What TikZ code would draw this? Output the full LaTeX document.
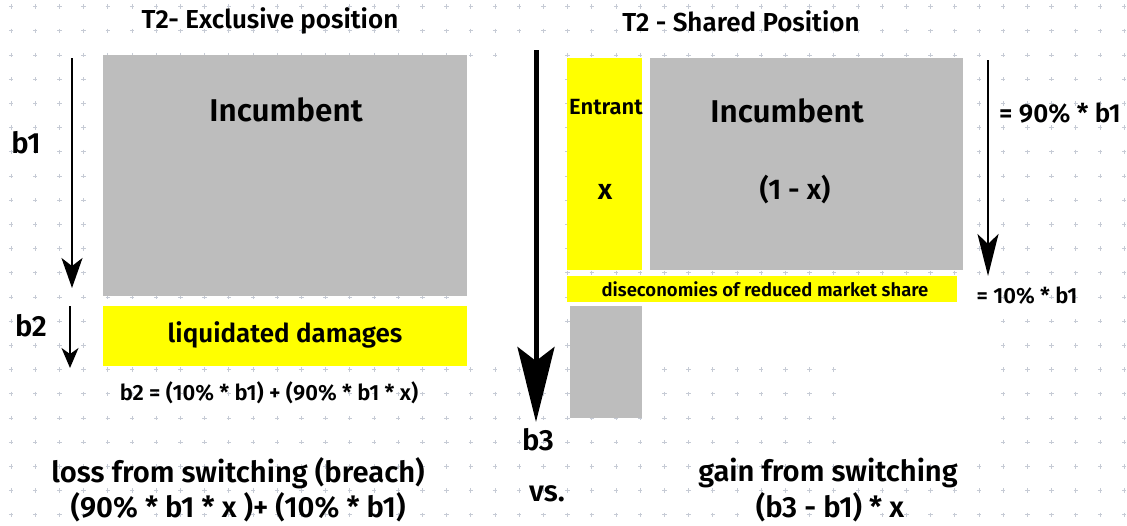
\documentclass[tikz,border=0pt]{standalone}
\usepackage{fontspec}
\setmainfont{Fira Sans}[BoldFont={Fira Sans SemiBold}]
\usetikzlibrary{arrows.meta}
\definecolor{boxgrey}{RGB}{189,189,189}
\definecolor{boxyellow}{RGB}{255,255,0}
\definecolor{dotgrey}{RGB}{198,203,213}
\tikzset{every node/.style={inner sep=0pt, text=black},
  gridplus/.style={dotgrey, line width=0.8pt},
  hugetxt/.style={font=\fontsize{31.5}{35}\selectfont\bfseries},
  sharetxt/.style={font=\fontsize{28.5}{32}\selectfont\bfseries},
  bigtxt/.style={font=\fontsize{29.2}{33}\selectfont\bfseries},
  midtxt/.style={font=\fontsize{26}{30}\selectfont\bfseries},
  smalltxt/.style={font=\fontsize{22}{26}\selectfont\bfseries},
  tinytxt/.style={font=\fontsize{18.5}{22}\selectfont\bfseries},
  thinarrow/.style={line width=2pt, -{Stealth[length=30pt,width=21pt,inset=8pt]}},
  fatarrow/.style={line width=5pt, -{Stealth[length=75pt,width=37pt,inset=14pt]}}}

\begin{document}
\begin{tikzpicture}[x=1pt,y=-1pt]
   \useasboundingbox (0,0) rectangle (1127,525);
   \fill[white] (0,0) rectangle (1127,525);
   \foreach \i in {0,...,46} {
     \foreach \j in {0,...,21} {
       \draw[gridplus] ({11+24.2*\i},{6.6+24.2*\j}) +(-2.2,0) -- +(2.2,0) +(0,-2.2) -- +(0,2.2);
     }
   }
   \fill[white] (462,64) rectangle (560,360);
   \fill[white] (510,45) rectangle (560,64);
   \fill[white] (642,304) rectangle (992,362);
   \fill[white] (840,304) rectangle (992,455);
   \begin{scope}
    \fill[boxgrey]   (103, 55) rectangle (467,296);
    \fill[boxyellow] (103,306) rectangle (467,366);
    \coordinate (b1top) at (72, 58);
    \coordinate (b1bot) at (72,288);
    \coordinate (b2top) at (70,306);
    \coordinate (b2bot) at (70,368);
    \draw[thinarrow] (b1top) -- (b1bot);
    \draw[line width=1.6pt, -{Stealth[length=20pt,width=17pt,inset=6pt]}] (b2top) -- (b2bot);
    \node[midtxt] (title1) at (270, 21) {T2- Exclusive position};
    \node[hugetxt] (inc1) at (286,110) {Incumbent};
    \node[midtxt] (damages) at (285,335) {liquidated damages};
    \node[smalltxt] (b2def) at (269,393) {b2 = (10\% * b1) + (90\% * b1 * x)};
    \node[bigtxt] (b1) at (26,143) {b1};
    \node[bigtxt] (b2) at (31,326) {b2};
    \node[bigtxt] (loss) at (238,473) {loss from switching (breach)};
    \node[bigtxt] (lossdef) at (238,507) {(90\% * b1 * x )+ (10\% * b1)};
   \end{scope}
   \begin{scope}
    \coordinate (b3top) at (536, 50);
    \coordinate (b3bot) at (536,422);
    \draw[fatarrow] (b3top) -- (b3bot);
    \node[bigtxt] (b3) at (538,440) {b3};
    \node[bigtxt] (vs) at (547,494) {vs.};
   \end{scope}
   \begin{scope}
    \fill[boxyellow] (567, 58) rectangle (642,270);
    \fill[boxgrey]   (650, 58) rectangle (963,270);
    \fill[boxyellow] (567,276) rectangle (957,302);
    \fill[boxgrey]   (570,306) rectangle (642,418);
    \coordinate (sharetop) at (988, 60);
    \coordinate (sharebot) at (988,276);
    \draw[line width=2.4pt, -{Stealth[length=42pt,width=21pt,inset=10pt]}] (sharetop) -- (sharebot);
    \node[midtxt] (title2) at (741, 21) {T2 - Shared Position};
    \node[smalltxt] (entrant) at (606,107) {Entrant};
    \node[sharetxt] (share) at (605,192) {x};
    \node[hugetxt] (inc2) at (787,111) {Incumbent};
    \node[sharetxt] (rest) at (795,190) {(1 - x)};
    \node[tinytxt] (dis) at (765,289) {diseconomies of reduced market share};
    \node[midtxt] (ninety) at (1060,113) {= 90\% * b1};
    \node[smalltxt] (ten) at (1027,296) {= 10\% * b1};
    \node[bigtxt] (gain) at (828,473) {gain from switching};
    \node[bigtxt] (gaindef) at (830,507) {(b3 - b1) * x};
   \end{scope}
\end{tikzpicture}
\end{document}
